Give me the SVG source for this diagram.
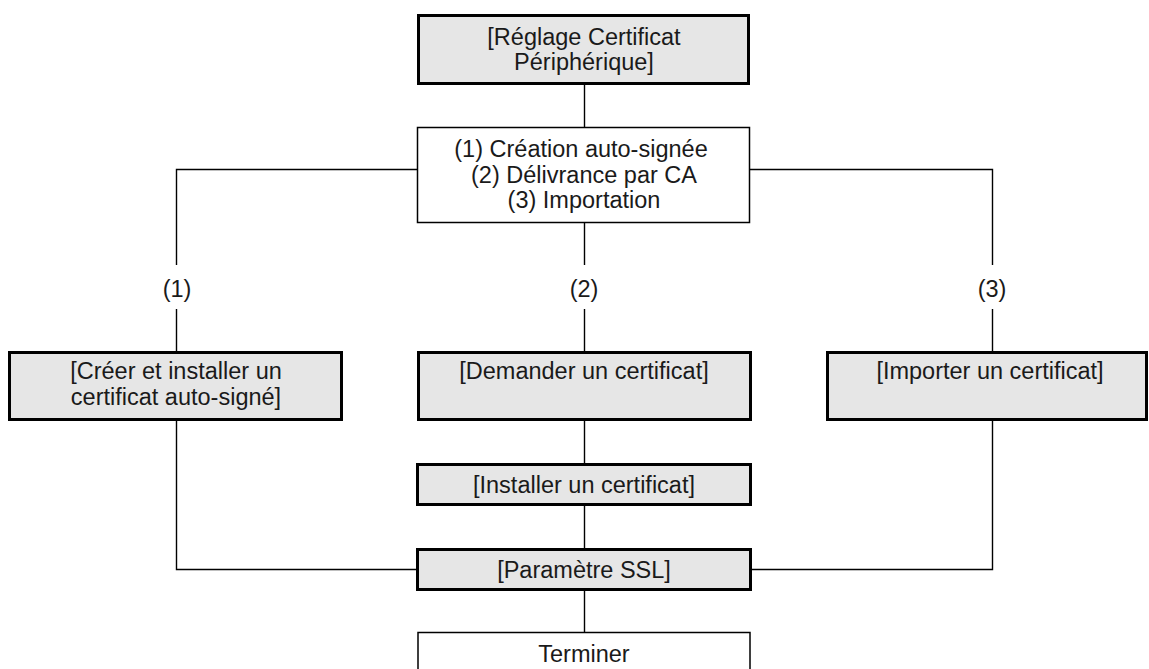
<svg xmlns="http://www.w3.org/2000/svg" width="1149" height="669" viewBox="0 0 1149 669">
<style>
.thick{fill:#e6e6e6;stroke:#000;stroke-width:3}
.thin{fill:#fff;stroke:#000;stroke-width:1.5}
.t{font-family:"Liberation Sans",Arial,sans-serif;font-size:23.5px;fill:#1a1a1a;text-anchor:middle}
.c{fill:none;stroke:#000;stroke-width:1.4}
</style>
<rect width="1149" height="669" fill="#fff"/>
<g id="connectors">
<path class="c" d="M584.5 84V127"/>
<path class="c" d="M417 169.5H176.5V265M176.5 309V351"/>
<path class="c" d="M750 169.5H992.5V265M992.5 309V351"/>
<path class="c" d="M584.5 223V265M584.5 309V351"/>
<path class="c" d="M176.5 421V569.5H417"/>
<path class="c" d="M992.5 421V569.5H752"/>
<path class="c" d="M584.5 421V463M584.5 506V548M584.5 590V632"/>
<text class="t" x="177" y="297">(1)</text>
<text class="t" x="584" y="297">(2)</text>
<text class="t" x="992" y="297">(3)</text>
</g>
<g id="n-reglage">
<rect class="thick" x="418.5" y="15.5" width="330" height="68"/>
<text class="t" x="584" y="44.5">[Réglage Certificat</text>
<text class="t" x="584" y="70">Périphérique]</text>
</g>
<g id="n-choix">
<rect class="thin" x="417.5" y="127.5" width="332" height="95"/>
<text class="t" x="581" y="157">(1) Création auto-signée</text>
<text class="t" x="584" y="182.5">(2) Délivrance par CA</text>
<text class="t" x="584" y="208">(3) Importation</text>
</g>
<g id="n-creer">
<rect class="thick" x="9.5" y="352.5" width="332" height="67"/>
<text class="t" x="176" y="379">[Créer et installer un</text>
<text class="t" x="176" y="405">certificat auto-signé]</text>
</g>
<g id="n-demander">
<rect class="thick" x="418.5" y="352.5" width="332" height="67"/>
<text class="t" x="584" y="379">[Demander un certificat]</text>
</g>
<g id="n-importer">
<rect class="thick" x="827.5" y="352.5" width="319" height="67"/>
<text class="t" x="990" y="379">[Importer un certificat]</text>
</g>
<g id="n-installer">
<rect class="thick" x="417.5" y="464.5" width="333" height="40"/>
<text class="t" x="584" y="493">[Installer un certificat]</text>
</g>
<g id="n-ssl">
<rect class="thick" x="417.5" y="549.5" width="333" height="40"/>
<text class="t" x="584" y="578">[Paramètre SSL]</text>
</g>
<g id="n-terminer">
<rect class="thin" x="418" y="632.5" width="332" height="50"/>
<text class="t" x="584" y="662">Terminer</text>
</g>
</svg>
